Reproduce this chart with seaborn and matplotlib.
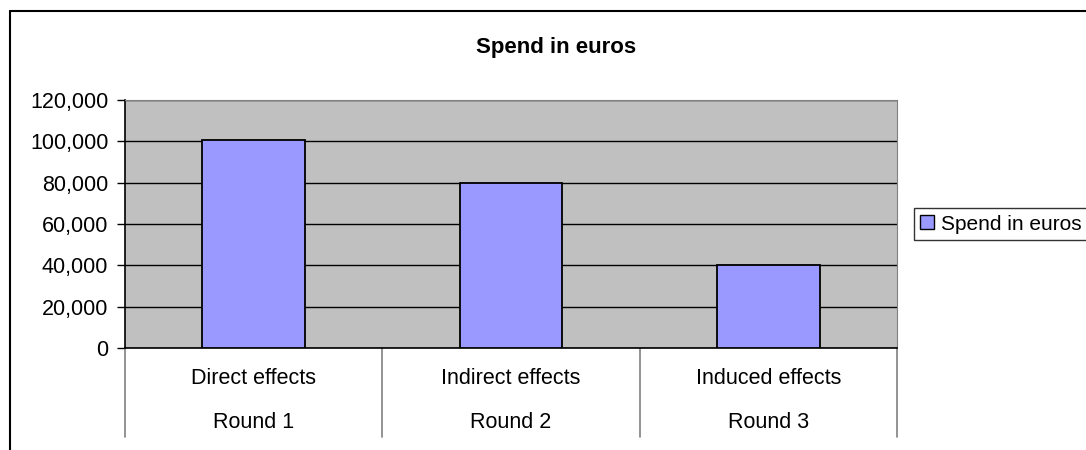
import matplotlib
matplotlib.use("Agg")
import matplotlib.pyplot as plt
import matplotlib.transforms as mtransforms
from matplotlib.lines import Line2D
from matplotlib.patches import Patch
import pandas as pd
import seaborn as sns

# data
effects = ["Direct effects", "Indirect effects", "Induced effects"]
rounds = ["Round 1", "Round 2", "Round 3"]
spend = [100800, 80000, 40000]
yticks = [0, 20000, 40000, 60000, 80000, 100000, 120000]

df = pd.DataFrame({"effect": effects, "round": rounds, "spend": spend})

sns.set_style("white")
plt.rcParams["font.family"] = ["Liberation Sans", "DejaVu Sans"]
plt.rcParams["text.color"] = "black"
plt.rcParams["ytick.color"] = "black"
plt.rcParams["xtick.color"] = "black"

W, H = 1086, 450
fig = plt.figure(figsize=(W / 100, H / 100), dpi=100)
ax = fig.add_axes([125 / W, 1 - 348 / H, (897 - 125) / W, (348 - 100) / H])
ax.set_facecolor("#C0C0C0")

sns.barplot(data=df, x="effect", y="spend", color="#9999FF", saturation=1,
            width=0.4, edgecolor="black", linewidth=1.3, ax=ax, zorder=3)

fs = 15.5
ax.set_xlim(-0.5, 2.5)
ax.set_ylim(0, 120000)
ax.set_yticks(yticks)
ax.set_yticklabels([f"{v:,}" for v in yticks], fontsize=fs)
ax.yaxis.grid(True, color="black", linewidth=1, zorder=1)
ax.set_axisbelow(True)
ax.tick_params(axis="y", direction="out", length=6, width=1, color="black",
               labelcolor="black", left=True, pad=6)
ax.set_xticks([])
ax.set_xlabel("")
ax.set_ylabel("")
for s in ["top", "right"]:
    ax.spines[s].set_color("#808080")
for s in ["left", "bottom"]:
    ax.spines[s].set_color("black")
    ax.spines[s].set_linewidth(1.2)

# two-level category axis
trans = mtransforms.blended_transform_factory(ax.transData, ax.transAxes)
ax_h = (348 - 100)
for i, (e, r) in enumerate(zip(effects, rounds)):
    ax.text(i, -(378 - 348) / ax_h, e, transform=trans, ha="center",
            va="center", fontsize=fs, color="black")
    ax.text(i, -(422 - 348) / ax_h, r, transform=trans, ha="center",
            va="center", fontsize=fs, color="black")
for xb in [-0.5, 0.5, 1.5, 2.5]:
    ax.add_line(Line2D([xb, xb], [0, -(437 - 348) / ax_h], transform=trans,
                       color="#808080", linewidth=1.2, clip_on=False))

fig.text(556 / W, 1 - 47 / H, "Spend in euros", ha="center", va="center",
         fontsize=16, fontweight="bold", color="black")

# legend
handle = Patch(facecolor="#9999FF", edgecolor="black", linewidth=1)
leg = fig.legend([handle], ["Spend in euros"], loc="center left",
                 bbox_to_anchor=(914 / W, 1 - 224 / H), fontsize=15,
                 frameon=True, fancybox=False, handlelength=0.65,
                 handleheight=0.65, handletextpad=0.35, borderpad=0.3,
                 borderaxespad=0)
leg.get_frame().set_edgecolor("black")
leg.get_frame().set_linewidth(1)

# outer chart border
fig.add_artist(Line2D([10 / W, 10 / W], [0, 1 - 11 / H], color="black",
                      linewidth=1.5))
fig.add_artist(Line2D([10 / W, 1], [1 - 11 / H, 1 - 11 / H], color="black",
                      linewidth=1.5))

fig.savefig("out.png", dpi=100)
